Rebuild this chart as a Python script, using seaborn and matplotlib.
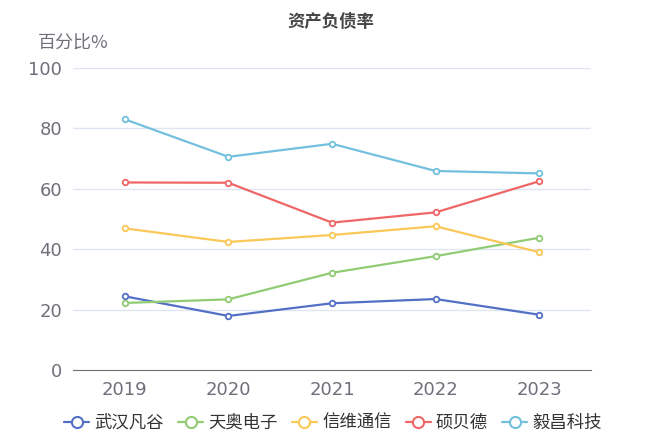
import numpy as np
import pandas as pd
import matplotlib
matplotlib.use('Agg')
import matplotlib.pyplot as plt
from matplotlib.lines import Line2D
import seaborn as sns

sns.set_style('white')
plt.rcParams['font.family'] = ['DejaVu Sans', 'Noto Sans CJK SC']

years = ['2019', '2020', '2021', '2022', '2023']
companies = ['武汉凡谷', '天奥电子', '信维通信', '硕贝德', '毅昌科技']
wuhan_fangu = [24.4, 17.9, 22.1, 23.5, 18.3]
tianao_dianzi = [22.2, 23.4, 32.2, 37.7, 43.8]
xinwei_tongxin = [46.9, 42.4, 44.7, 47.6, 39.0]
shuobeide = [62.1, 62.0, 48.8, 52.2, 62.5]
yichang_keji = [83.0, 70.6, 74.9, 65.9, 65.1]
colors = ['#5470c6', '#91cc75', '#fac858', '#ee6666', '#73c0de']

series = [wuhan_fangu, tianao_dianzi, xinwei_tongxin, shuobeide, yichang_keji]
df = pd.DataFrame({
    'year': years * len(companies),
    'company': [c for c in companies for _ in years],
    'value': [v for s in series for v in s],
})

fig = plt.figure(figsize=(6.48, 4.32), dpi=100)
ax = fig.add_axes([0.1127, 0.1435, 0.7994, 0.6991])

sns.lineplot(data=df, x='year', y='value', hue='company', hue_order=companies,
             palette=dict(zip(companies, colors)), marker='o', markersize=4,
             markerfacecolor='white', markeredgewidth=1.3, linewidth=1.6,
             sort=False, ax=ax, legend=False)
for line, c in zip(ax.get_lines(), colors):
    line.set_markeredgecolor(c)

ax.set_xlim(-0.5, 4.5)
ax.set_ylim(0, 100)
ax.set_yticks([0, 20, 40, 60, 80, 100])
ax.set_xticks(range(5))
ax.set_xticklabels(years)
ax.set_xticks(np.arange(-0.5, 5, 1), minor=True)
ax.tick_params(axis='x', which='major', length=0, pad=8, labelsize=13, labelcolor='#6e7079')
ax.tick_params(axis='x', which='minor', length=5, width=1, color='#6e7079', direction='out')
ax.tick_params(axis='y', length=0, pad=8, labelsize=13, labelcolor='#6e7079')
ax.grid(axis='y', color='#e0e6f1', linewidth=1)
ax.set_axisbelow(True)
for s in ['top', 'right', 'left']:
    ax.spines[s].set_visible(False)
ax.spines['bottom'].set_color('#6e7079')
ax.set_xlabel('')
ax.set_ylabel('')

cjk = ['Noto Sans CJK SC', 'DejaVu Sans']
fig.text(0.511, 0.95, '资产负债率', ha='center', va='center', fontsize=12.5,
         fontweight='bold', color='#464646', family=cjk)
fig.text(0.058, 0.898, '百分比%', ha='left', va='center', fontsize=13,
         color='#6e7079', family=cjk)

handles = [Line2D([], [], color=c, marker='o', markersize=8, markerfacecolor='white',
                  markeredgewidth=1.5, linewidth=1.6) for c in colors]
leg = fig.legend(handles, companies, loc='center', bbox_to_anchor=(0.514, 0.021),
                 ncol=5, frameon=False, handlelength=1.45, handletextpad=0.3,
                 columnspacing=0.8, borderpad=0.1, prop={'family': cjk, 'size': 12.5})
for t in leg.get_texts():
    t.set_color('#333333')

fig.savefig('out.png', dpi=100)
